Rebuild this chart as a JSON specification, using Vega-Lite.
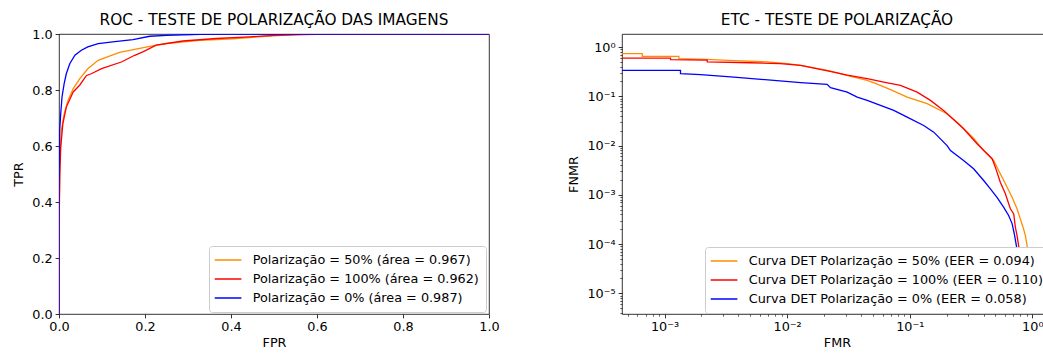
{
  "$schema": "https://vega.github.io/schema/vega-lite/v6.json",
  "autosize": {"type": "none"},
  "padding": {"left": 59, "top": 34, "right": 984, "bottom": 320},
  "bounds": "flush",
  "spacing": 133,
  "background": "white",
  "config": {
    "font": "DejaVu Sans",
    "view": {"stroke": "black", "strokeWidth": 0.8},
    "title": {"font": "DejaVu Sans", "fontSize": 15.3, "fontWeight": "normal", "color": "black"},
    "axis": {
      "labelFont": "DejaVu Sans", "labelFontSize": 12.8, "labelColor": "black",
      "titleFont": "DejaVu Sans", "titleFontSize": 12.8, "titleFontWeight": "normal", "titleColor": "black",
      "tickColor": "black", "tickSize": 3.9, "tickWidth": 0.8, "domain": false, "grid": false,
      "labelPadding": 3, "labelFlush": false, "labelOverlap": false, "labelBound": false
    },
    "legend": {
      "labelFont": "DejaVu Sans", "labelFontSize": 12.8, "labelColor": "black", "labelLimit": 600,
      "symbolType": "M-1.383,0H3.067", "symbolSize": 144, "symbolStrokeWidth": 1.5,
      "fillColor": "white", "strokeColor": "#cccccc", "cornerRadius": 3,
      "padding": 7, "rowPadding": 5, "labelOffset": 22.7
    }
  },
  "datasets": {
    "roc": [
      {"s": "Polarização = 50% (área = 0.967)", "i": 0, "x": 0, "y": 0},
      {"s": "Polarização = 50% (área = 0.967)", "i": 1, "x": 0, "y": 0.3},
      {"s": "Polarização = 50% (área = 0.967)", "i": 2, "x": 0.0016, "y": 0.536},
      {"s": "Polarização = 50% (área = 0.967)", "i": 3, "x": 0.0056, "y": 0.656},
      {"s": "Polarização = 50% (área = 0.967)", "i": 4, "x": 0.012, "y": 0.715},
      {"s": "Polarização = 50% (área = 0.967)", "i": 5, "x": 0.021, "y": 0.763},
      {"s": "Polarização = 50% (área = 0.967)", "i": 6, "x": 0.033, "y": 0.805},
      {"s": "Polarização = 50% (área = 0.967)", "i": 7, "x": 0.048, "y": 0.84},
      {"s": "Polarização = 50% (área = 0.967)", "i": 8, "x": 0.067, "y": 0.876},
      {"s": "Polarização = 50% (área = 0.967)", "i": 9, "x": 0.091, "y": 0.906},
      {"s": "Polarização = 50% (área = 0.967)", "i": 10, "x": 0.122, "y": 0.924},
      {"s": "Polarização = 50% (área = 0.967)", "i": 11, "x": 0.141, "y": 0.934},
      {"s": "Polarização = 50% (área = 0.967)", "i": 12, "x": 0.176, "y": 0.945},
      {"s": "Polarização = 50% (área = 0.967)", "i": 13, "x": 0.211, "y": 0.956},
      {"s": "Polarização = 50% (área = 0.967)", "i": 14, "x": 0.25, "y": 0.966},
      {"s": "Polarização = 50% (área = 0.967)", "i": 15, "x": 0.327, "y": 0.977},
      {"s": "Polarização = 50% (área = 0.967)", "i": 16, "x": 0.405, "y": 0.983},
      {"s": "Polarização = 50% (área = 0.967)", "i": 17, "x": 0.48, "y": 0.992},
      {"s": "Polarização = 50% (área = 0.967)", "i": 18, "x": 0.55, "y": 0.998},
      {"s": "Polarização = 50% (área = 0.967)", "i": 19, "x": 0.6, "y": 1},
      {"s": "Polarização = 50% (área = 0.967)", "i": 20, "x": 1, "y": 1},
      {"s": "Polarização = 100% (área = 0.962)", "i": 0, "x": 0, "y": 0},
      {"s": "Polarização = 100% (área = 0.962)", "i": 1, "x": 0, "y": 0.3},
      {"s": "Polarização = 100% (área = 0.962)", "i": 2, "x": 0.002, "y": 0.5},
      {"s": "Polarização = 100% (área = 0.962)", "i": 3, "x": 0.004, "y": 0.596},
      {"s": "Polarização = 100% (área = 0.962)", "i": 4, "x": 0.009, "y": 0.68},
      {"s": "Polarização = 100% (área = 0.962)", "i": 5, "x": 0.017, "y": 0.739},
      {"s": "Polarização = 100% (área = 0.962)", "i": 6, "x": 0.033, "y": 0.793},
      {"s": "Polarização = 100% (área = 0.962)", "i": 7, "x": 0.048, "y": 0.817},
      {"s": "Polarização = 100% (área = 0.962)", "i": 8, "x": 0.064, "y": 0.852},
      {"s": "Polarização = 100% (área = 0.962)", "i": 9, "x": 0.075, "y": 0.858},
      {"s": "Polarização = 100% (área = 0.962)", "i": 10, "x": 0.099, "y": 0.876},
      {"s": "Polarização = 100% (área = 0.962)", "i": 11, "x": 0.145, "y": 0.9},
      {"s": "Polarização = 100% (área = 0.962)", "i": 12, "x": 0.176, "y": 0.924},
      {"s": "Polarização = 100% (área = 0.962)", "i": 13, "x": 0.195, "y": 0.936},
      {"s": "Polarização = 100% (área = 0.962)", "i": 14, "x": 0.226, "y": 0.96},
      {"s": "Polarização = 100% (área = 0.962)", "i": 15, "x": 0.288, "y": 0.975},
      {"s": "Polarização = 100% (área = 0.962)", "i": 16, "x": 0.366, "y": 0.984},
      {"s": "Polarização = 100% (área = 0.962)", "i": 17, "x": 0.443, "y": 0.99},
      {"s": "Polarização = 100% (área = 0.962)", "i": 18, "x": 0.5, "y": 0.995},
      {"s": "Polarização = 100% (área = 0.962)", "i": 19, "x": 0.56, "y": 0.998},
      {"s": "Polarização = 100% (área = 0.962)", "i": 20, "x": 0.64, "y": 1},
      {"s": "Polarização = 100% (área = 0.962)", "i": 21, "x": 1, "y": 1},
      {"s": "Polarização = 0% (área = 0.987)", "i": 0, "x": 0, "y": 0},
      {"s": "Polarização = 0% (área = 0.987)", "i": 1, "x": 0, "y": 0.45},
      {"s": "Polarização = 0% (área = 0.987)", "i": 2, "x": 0.0016, "y": 0.656},
      {"s": "Polarização = 0% (área = 0.987)", "i": 3, "x": 0.004, "y": 0.715},
      {"s": "Polarização = 0% (área = 0.987)", "i": 4, "x": 0.007, "y": 0.775},
      {"s": "Polarização = 0% (área = 0.987)", "i": 5, "x": 0.012, "y": 0.823},
      {"s": "Polarização = 0% (área = 0.987)", "i": 6, "x": 0.017, "y": 0.858},
      {"s": "Polarização = 0% (área = 0.987)", "i": 7, "x": 0.025, "y": 0.894},
      {"s": "Polarização = 0% (área = 0.987)", "i": 8, "x": 0.037, "y": 0.924},
      {"s": "Polarização = 0% (área = 0.987)", "i": 9, "x": 0.052, "y": 0.942},
      {"s": "Polarização = 0% (área = 0.987)", "i": 10, "x": 0.067, "y": 0.954},
      {"s": "Polarização = 0% (área = 0.987)", "i": 11, "x": 0.091, "y": 0.966},
      {"s": "Polarização = 0% (área = 0.987)", "i": 12, "x": 0.13, "y": 0.973},
      {"s": "Polarização = 0% (área = 0.987)", "i": 13, "x": 0.172, "y": 0.98},
      {"s": "Polarização = 0% (área = 0.987)", "i": 14, "x": 0.211, "y": 0.992},
      {"s": "Polarização = 0% (área = 0.987)", "i": 15, "x": 0.25, "y": 0.995},
      {"s": "Polarização = 0% (área = 0.987)", "i": 16, "x": 0.33, "y": 0.999},
      {"s": "Polarização = 0% (área = 0.987)", "i": 17, "x": 0.4, "y": 1},
      {"s": "Polarização = 0% (área = 0.987)", "i": 18, "x": 1, "y": 1}
    ],
    "det": [
      {"s": "Curva DET Polarização = 50% (EER = 0.094)", "i": 0, "x": 0.0001, "y": 0.734},
      {"s": "Curva DET Polarização = 50% (EER = 0.094)", "i": 1, "x": 0.000659, "y": 0.734},
      {"s": "Curva DET Polarização = 50% (EER = 0.094)", "i": 2, "x": 0.000659, "y": 0.647},
      {"s": "Curva DET Polarização = 50% (EER = 0.094)", "i": 3, "x": 0.00131, "y": 0.647},
      {"s": "Curva DET Polarização = 50% (EER = 0.094)", "i": 4, "x": 0.00131, "y": 0.581},
      {"s": "Curva DET Polarização = 50% (EER = 0.094)", "i": 5, "x": 0.0022, "y": 0.56},
      {"s": "Curva DET Polarização = 50% (EER = 0.094)", "i": 6, "x": 0.0037, "y": 0.53},
      {"s": "Curva DET Polarização = 50% (EER = 0.094)", "i": 7, "x": 0.0069, "y": 0.5},
      {"s": "Curva DET Polarização = 50% (EER = 0.094)", "i": 8, "x": 0.01, "y": 0.46},
      {"s": "Curva DET Polarização = 50% (EER = 0.094)", "i": 9, "x": 0.0129, "y": 0.425},
      {"s": "Curva DET Polarização = 50% (EER = 0.094)", "i": 10, "x": 0.0212, "y": 0.336},
      {"s": "Curva DET Polarização = 50% (EER = 0.094)", "i": 11, "x": 0.035, "y": 0.2455},
      {"s": "Curva DET Polarização = 50% (EER = 0.094)", "i": 12, "x": 0.045, "y": 0.2104},
      {"s": "Curva DET Polarização = 50% (EER = 0.094)", "i": 13, "x": 0.0577, "y": 0.1666},
      {"s": "Curva DET Polarização = 50% (EER = 0.094)", "i": 14, "x": 0.072, "y": 0.132},
      {"s": "Curva DET Polarização = 50% (EER = 0.094)", "i": 15, "x": 0.0953, "y": 0.0964},
      {"s": "Curva DET Polarização = 50% (EER = 0.094)", "i": 16, "x": 0.1386, "y": 0.0708},
      {"s": "Curva DET Polarização = 50% (EER = 0.094)", "i": 17, "x": 0.2017, "y": 0.0442},
      {"s": "Curva DET Polarização = 50% (EER = 0.094)", "i": 18, "x": 0.25, "y": 0.028},
      {"s": "Curva DET Polarização = 50% (EER = 0.094)", "i": 19, "x": 0.33, "y": 0.0143},
      {"s": "Curva DET Polarização = 50% (EER = 0.094)", "i": 20, "x": 0.401, "y": 0.0079},
      {"s": "Curva DET Polarização = 50% (EER = 0.094)", "i": 21, "x": 0.484, "y": 0.00498},
      {"s": "Curva DET Polarização = 50% (EER = 0.094)", "i": 22, "x": 0.531, "y": 0.00312},
      {"s": "Curva DET Polarização = 50% (EER = 0.094)", "i": 23, "x": 0.603, "y": 0.00167},
      {"s": "Curva DET Polarização = 50% (EER = 0.094)", "i": 24, "x": 0.684, "y": 0.00089},
      {"s": "Curva DET Polarização = 50% (EER = 0.094)", "i": 25, "x": 0.75, "y": 0.00052},
      {"s": "Curva DET Polarização = 50% (EER = 0.094)", "i": 26, "x": 0.798, "y": 0.000325},
      {"s": "Curva DET Polarização = 50% (EER = 0.094)", "i": 27, "x": 0.84, "y": 0.00022},
      {"s": "Curva DET Polarização = 50% (EER = 0.094)", "i": 28, "x": 0.877, "y": 0.00015},
      {"s": "Curva DET Polarização = 50% (EER = 0.094)", "i": 29, "x": 0.906, "y": 0.000093},
      {"s": "Curva DET Polarização = 50% (EER = 0.094)", "i": 30, "x": 0.95, "y": 0.00003},
      {"s": "Curva DET Polarização = 50% (EER = 0.094)", "i": 31, "x": 0.99, "y": 0.000008},
      {"s": "Curva DET Polarização = 50% (EER = 0.094)", "i": 32, "x": 1.0, "y": 1e-9},
      {"s": "Curva DET Polarização = 100% (EER = 0.110)", "i": 0, "x": 0.0001, "y": 0.598},
      {"s": "Curva DET Polarização = 100% (EER = 0.110)", "i": 1, "x": 0.00112, "y": 0.598},
      {"s": "Curva DET Polarização = 100% (EER = 0.110)", "i": 2, "x": 0.00112, "y": 0.554},
      {"s": "Curva DET Polarização = 100% (EER = 0.110)", "i": 3, "x": 0.00223, "y": 0.54},
      {"s": "Curva DET Polarização = 100% (EER = 0.110)", "i": 4, "x": 0.00223, "y": 0.5},
      {"s": "Curva DET Polarização = 100% (EER = 0.110)", "i": 5, "x": 0.005, "y": 0.48},
      {"s": "Curva DET Polarização = 100% (EER = 0.110)", "i": 6, "x": 0.0088, "y": 0.46},
      {"s": "Curva DET Polarização = 100% (EER = 0.110)", "i": 7, "x": 0.0129, "y": 0.425},
      {"s": "Curva DET Polarização = 100% (EER = 0.110)", "i": 8, "x": 0.024, "y": 0.31},
      {"s": "Curva DET Polarização = 100% (EER = 0.110)", "i": 9, "x": 0.031, "y": 0.27},
      {"s": "Curva DET Polarização = 100% (EER = 0.110)", "i": 10, "x": 0.045, "y": 0.228},
      {"s": "Curva DET Polarização = 100% (EER = 0.110)", "i": 11, "x": 0.0614, "y": 0.1945},
      {"s": "Curva DET Polarização = 100% (EER = 0.110)", "i": 12, "x": 0.084, "y": 0.1666},
      {"s": "Curva DET Polarização = 100% (EER = 0.110)", "i": 13, "x": 0.115, "y": 0.1217},
      {"s": "Curva DET Polarização = 100% (EER = 0.110)", "i": 14, "x": 0.1475, "y": 0.0826},
      {"s": "Curva DET Polarização = 100% (EER = 0.110)", "i": 15, "x": 0.189, "y": 0.0517},
      {"s": "Curva DET Polarização = 100% (EER = 0.110)", "i": 16, "x": 0.23, "y": 0.033},
      {"s": "Curva DET Polarização = 100% (EER = 0.110)", "i": 17, "x": 0.275, "y": 0.0219},
      {"s": "Curva DET Polarização = 100% (EER = 0.110)", "i": 18, "x": 0.354, "y": 0.0109},
      {"s": "Curva DET Polarização = 100% (EER = 0.110)", "i": 19, "x": 0.47, "y": 0.0054},
      {"s": "Curva DET Polarização = 100% (EER = 0.110)", "i": 20, "x": 0.499, "y": 0.00364},
      {"s": "Curva DET Polarização = 100% (EER = 0.110)", "i": 21, "x": 0.548, "y": 0.0018},
      {"s": "Curva DET Polarização = 100% (EER = 0.110)", "i": 22, "x": 0.603, "y": 0.00105},
      {"s": "Curva DET Polarização = 100% (EER = 0.110)", "i": 23, "x": 0.662, "y": 0.00052},
      {"s": "Curva DET Polarização = 100% (EER = 0.110)", "i": 24, "x": 0.705, "y": 0.00041},
      {"s": "Curva DET Polarização = 100% (EER = 0.110)", "i": 25, "x": 0.727, "y": 0.00022},
      {"s": "Curva DET Polarização = 100% (EER = 0.110)", "i": 26, "x": 0.75, "y": 0.00015},
      {"s": "Curva DET Polarização = 100% (EER = 0.110)", "i": 27, "x": 0.773, "y": 0.000093},
      {"s": "Curva DET Polarização = 100% (EER = 0.110)", "i": 28, "x": 0.85, "y": 0.00003},
      {"s": "Curva DET Polarização = 100% (EER = 0.110)", "i": 29, "x": 0.905, "y": 0.000005},
      {"s": "Curva DET Polarização = 100% (EER = 0.110)", "i": 30, "x": 0.905, "y": 1e-9},
      {"s": "Curva DET Polarização = 0% (EER = 0.058)", "i": 0, "x": 0.0001, "y": 0.336},
      {"s": "Curva DET Polarização = 0% (EER = 0.058)", "i": 1, "x": 0.00135, "y": 0.336},
      {"s": "Curva DET Polarização = 0% (EER = 0.058)", "i": 2, "x": 0.00135, "y": 0.288},
      {"s": "Curva DET Polarização = 0% (EER = 0.058)", "i": 3, "x": 0.00197, "y": 0.275},
      {"s": "Curva DET Polarização = 0% (EER = 0.058)", "i": 4, "x": 0.00368, "y": 0.2455},
      {"s": "Curva DET Polarização = 0% (EER = 0.058)", "i": 5, "x": 0.0078, "y": 0.2104},
      {"s": "Curva DET Polarização = 0% (EER = 0.058)", "i": 6, "x": 0.0129, "y": 0.189},
      {"s": "Curva DET Polarização = 0% (EER = 0.058)", "i": 7, "x": 0.0212, "y": 0.1746},
      {"s": "Curva DET Polarização = 0% (EER = 0.058)", "i": 8, "x": 0.0226, "y": 0.1496},
      {"s": "Curva DET Polarização = 0% (EER = 0.058)", "i": 9, "x": 0.0309, "y": 0.1217},
      {"s": "Curva DET Polarização = 0% (EER = 0.058)", "i": 10, "x": 0.0373, "y": 0.0964},
      {"s": "Curva DET Polarização = 0% (EER = 0.058)", "i": 11, "x": 0.045, "y": 0.0826},
      {"s": "Curva DET Polarização = 0% (EER = 0.058)", "i": 12, "x": 0.0577, "y": 0.0653},
      {"s": "Curva DET Polarização = 0% (EER = 0.058)", "i": 13, "x": 0.0741, "y": 0.0517},
      {"s": "Curva DET Polarização = 0% (EER = 0.058)", "i": 14, "x": 0.0953, "y": 0.0378},
      {"s": "Curva DET Polarização = 0% (EER = 0.058)", "i": 15, "x": 0.13, "y": 0.0256},
      {"s": "Curva DET Polarização = 0% (EER = 0.058)", "i": 16, "x": 0.157, "y": 0.0187},
      {"s": "Curva DET Polarização = 0% (EER = 0.058)", "i": 17, "x": 0.2017, "y": 0.01},
      {"s": "Curva DET Polarização = 0% (EER = 0.058)", "i": 18, "x": 0.215, "y": 0.0079},
      {"s": "Curva DET Polarização = 0% (EER = 0.058)", "i": 19, "x": 0.275, "y": 0.00498},
      {"s": "Curva DET Polarização = 0% (EER = 0.058)", "i": 20, "x": 0.332, "y": 0.00337},
      {"s": "Curva DET Polarização = 0% (EER = 0.058)", "i": 21, "x": 0.401, "y": 0.00195},
      {"s": "Curva DET Polarização = 0% (EER = 0.058)", "i": 22, "x": 0.455, "y": 0.00132},
      {"s": "Curva DET Polarização = 0% (EER = 0.058)", "i": 23, "x": 0.515, "y": 0.00089},
      {"s": "Curva DET Polarização = 0% (EER = 0.058)", "i": 24, "x": 0.583, "y": 0.00056},
      {"s": "Curva DET Polarização = 0% (EER = 0.058)", "i": 25, "x": 0.641, "y": 0.00038},
      {"s": "Curva DET Polarização = 0% (EER = 0.058)", "i": 26, "x": 0.684, "y": 0.00026},
      {"s": "Curva DET Polarização = 0% (EER = 0.058)", "i": 27, "x": 0.713, "y": 0.00016},
      {"s": "Curva DET Polarização = 0% (EER = 0.058)", "i": 28, "x": 0.741, "y": 0.000093},
      {"s": "Curva DET Polarização = 0% (EER = 0.058)", "i": 29, "x": 0.8, "y": 0.00003},
      {"s": "Curva DET Polarização = 0% (EER = 0.058)", "i": 30, "x": 0.89, "y": 0.000005},
      {"s": "Curva DET Polarização = 0% (EER = 0.058)", "i": 31, "x": 0.89, "y": 1e-9}
    ]
  },
  "hconcat": [
    {
      "width": 430, "height": 280,
      "title": {"text": "ROC - TESTE DE POLARIZAÇÃO DAS IMAGENS", "offset": 0},
      "data": {"name": "roc"},
      "mark": {"type": "line", "strokeWidth": 1.3, "clip": true},
      "encoding": {
        "x": {"field": "x", "type": "quantitative", "title": "FPR",
              "scale": {"domain": [0, 1], "nice": false, "zero": false},
              "axis": {"values": [0, 0.2, 0.4, 0.6, 0.8, 1.0], "format": ".1f", "titlePadding": 3}},
        "y": {"field": "y", "type": "quantitative", "title": "TPR",
              "scale": {"domain": [0, 1], "nice": false, "zero": false},
              "axis": {"values": [0, 0.2, 0.4, 0.6, 0.8, 1.0], "format": ".1f", "titlePadding": 6}},
        "order": {"field": "i", "type": "quantitative"},
        "color": {"field": "s", "type": "nominal",
                  "scale": {"domain": ["Polarização = 50% (área = 0.967)", "Polarização = 100% (área = 0.962)", "Polarização = 0% (área = 0.987)"],
                            "range": ["#ff8c00", "#ff0000", "#0000ff"]},
                  "legend": {"title": null, "orient": "none", "legendX": 150, "legendY": 212}}
      }
    },
    {
      "width": 430, "height": 280,
      "title": {"text": "ETC - TESTE DE POLARIZAÇÃO", "offset": 6},
      "data": {"name": "det"},
      "mark": {"type": "line", "strokeWidth": 1.3, "clip": true},
      "encoding": {
        "x": {"field": "x", "type": "quantitative", "title": "FMR",
              "scale": {"type": "log", "domain": [0.00045, 1.447], "nice": false},
              "axis": {
                "values": [0.0005, 0.0006, 0.0007, 0.0008, 0.0009, 0.001, 0.002, 0.003, 0.004, 0.005, 0.006, 0.007, 0.008, 0.009, 0.01, 0.02, 0.03, 0.04, 0.05, 0.06, 0.07, 0.08, 0.09, 0.1, 0.2, 0.3, 0.4, 0.5, 0.6, 0.7, 0.8, 0.9, 1],
                "labelExpr": "abs(log(datum.value)/LN10 - round(log(datum.value)/LN10)) < 0.001 ? ['10⁰','10⁻¹','10⁻²','10⁻³','10⁻⁴','10⁻⁵','10⁻⁶'][-round(log(datum.value)/LN10)] : ''",
                "tickSize": {"condition": {"test": "abs(log(datum.value)/LN10 - round(log(datum.value)/LN10)) < 0.001", "value": 3.9}, "value": 2.2},
                "tickWidth": {"condition": {"test": "abs(log(datum.value)/LN10 - round(log(datum.value)/LN10)) < 0.001", "value": 0.8}, "value": 0.6},
                "titlePadding": 3}},
        "y": {"field": "y", "type": "quantitative", "title": "FNMR",
              "scale": {"type": "log", "domain": [0.0000038, 1.84], "nice": false},
              "axis": {
                "values": [0.000004, 0.000005, 0.000006, 0.000007, 0.000008, 0.000009, 0.00001, 0.00002, 0.00003, 0.00004, 0.00005, 0.00006, 0.00007, 0.00008, 0.00009, 0.0001, 0.0002, 0.0003, 0.0004, 0.0005, 0.0006, 0.0007, 0.0008, 0.0009, 0.001, 0.002, 0.003, 0.004, 0.005, 0.006, 0.007, 0.008, 0.009, 0.01, 0.02, 0.03, 0.04, 0.05, 0.06, 0.07, 0.08, 0.09, 0.1, 0.2, 0.3, 0.4, 0.5, 0.6, 0.7, 0.8, 0.9, 1],
                "labelExpr": "abs(log(datum.value)/LN10 - round(log(datum.value)/LN10)) < 0.001 ? ['10⁰','10⁻¹','10⁻²','10⁻³','10⁻⁴','10⁻⁵','10⁻⁶'][-round(log(datum.value)/LN10)] : ''",
                "tickSize": {"condition": {"test": "abs(log(datum.value)/LN10 - round(log(datum.value)/LN10)) < 0.001", "value": 3.9}, "value": 2.2},
                "tickWidth": {"condition": {"test": "abs(log(datum.value)/LN10 - round(log(datum.value)/LN10)) < 0.001", "value": 0.8}, "value": 0.6},
                "titlePadding": 6}},
        "order": {"field": "i", "type": "quantitative"},
        "color": {"field": "s", "type": "nominal",
                  "scale": {"domain": ["Curva DET Polarização = 50% (EER = 0.094)", "Curva DET Polarização = 100% (EER = 0.110)", "Curva DET Polarização = 0% (EER = 0.058)"],
                            "range": ["#ff8c00", "#ff0000", "#0000ff"]},
                  "legend": {"title": null, "orient": "none", "legendX": 83, "legendY": 213}}
      }
    }
  ],
  "resolve": {"scale": {"color": "independent"}}
}
